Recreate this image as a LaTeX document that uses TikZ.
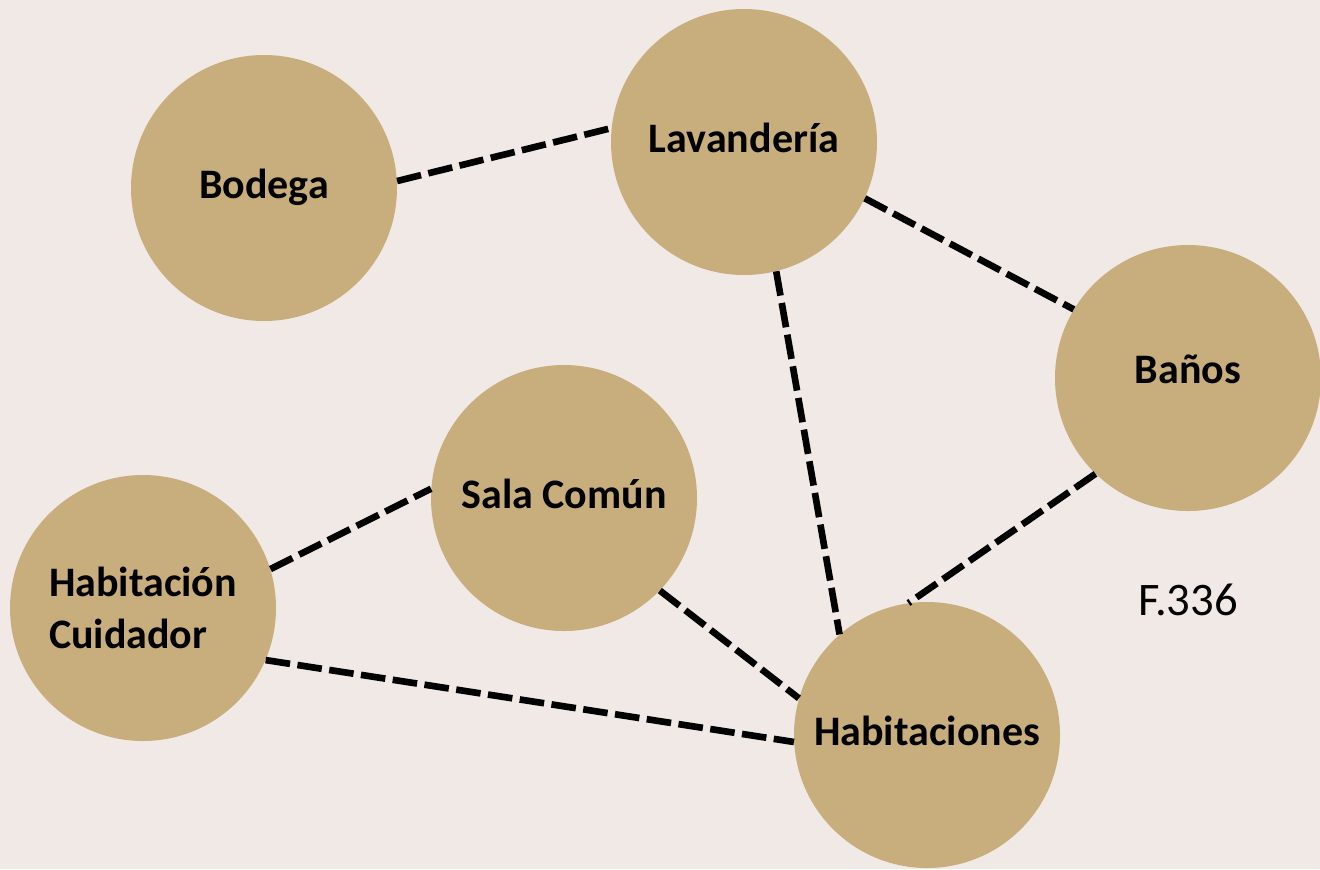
\documentclass[tikz,border=0pt]{standalone}
\usepackage{fontspec}
\setmainfont{Carlito}
\definecolor{bgcol}{RGB}{240,233,230}
\definecolor{roomcol}{RGB}{200,174,125}

\begin{document}
\begin{tikzpicture}[x=0.75pt, y=-0.75pt,
  room/.style={circle, fill=roomcol, minimum size=199.5pt, inner sep=0pt,
    align=center, font=\fontsize{31.5}{38.4}\selectfont\bfseries},
  oneline/.style={text height=23.6pt, text depth=7.3pt},
  link/.style={line width=5pt, dash pattern=on 18.5pt off 5.6pt}
]
\fill[bgcol] (0,0) rectangle (1320,869);
\useasboundingbox (0,0) rectangle (1320,869);

\node[room, oneline] (bodega) at (264,188) {Bodega};
\node[room, oneline] (lav) at (744,142) {Lavandería};
\node[room, oneline, text depth=15.5pt] (banos) at (1188,378) {Baños};
\node[room, oneline] (sala) at (564,498) {Sala Común};
\node[room, align=left] (cuidador) at (143,608) {Habitación\\Cuidador};
\node[room, oneline] (hab) at (927,735) {Habitaciones};
\node[font=\fontsize{35}{42}\selectfont] (fig) at (1188,600) {F.336};

\draw[link] (bodega.3.4) -- (lav.174.8);
\draw[link] (lav.-25) -- (banos.149.3);
\draw[link] (lav.-76.9) -- (hab.131);
\draw[link] (banos.-134.7) -- (hab.98.4);
\draw[link] (sala.-44.7) -- (hab.164.6);
\draw[link] (cuidador.17.5) -- (sala.176.6);
\draw[link] (cuidador.-23.1) -- (hab.-177.8);
\end{tikzpicture}
\end{document}
